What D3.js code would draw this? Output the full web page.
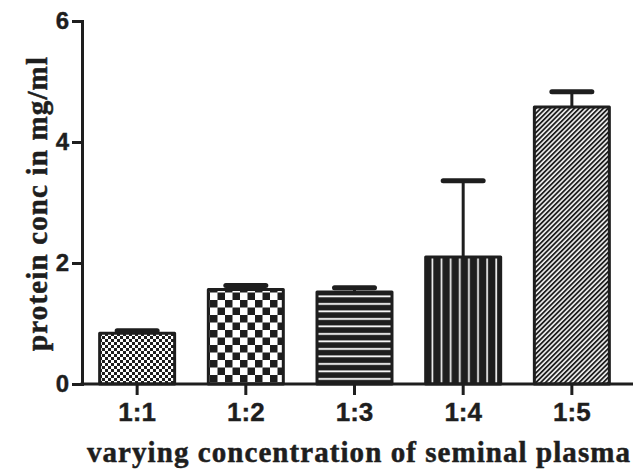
<!DOCTYPE html>
<html>
<head>
<meta charset="utf-8">
<script src="https://cdn.jsdelivr.net/npm/d3@7"></script>
<style>
  body { margin: 0; background: #fff; }
  svg { display: block; }
</style>
</head>
<body>
<div id="chart"></div>
<script>
// data
const categories = ["1:1", "1:2", "1:3", "1:4", "1:5"];
const means = [0.84, 1.56, 1.52, 2.10, 4.58];
const errors = [0.04, 0.07, 0.07, 1.26, 0.25];
const yTicks = [0, 2, 4, 6];
const patterns = ["fineCheck", "check", "hLines", "vLines", "diag"];

const W = 635, H = 469;
const ink = "#1e1e1e";
const svg = d3.select("#chart").append("svg")
    .attr("width", W).attr("height", H);

// fill patterns
const defs = svg.append("defs");
let p = defs.append("pattern").attr("id", "fineCheck")
    .attr("patternUnits", "userSpaceOnUse").attr("width", 6).attr("height", 6);
p.append("rect").attr("width", 6).attr("height", 6).attr("fill", "#fff");
p.append("rect").attr("width", 3).attr("height", 3).attr("fill", ink);
p.append("rect").attr("x", 3).attr("y", 3).attr("width", 3).attr("height", 3).attr("fill", ink);

p = defs.append("pattern").attr("id", "check")
    .attr("patternUnits", "userSpaceOnUse").attr("width", 15).attr("height", 15);
p.append("rect").attr("width", 15).attr("height", 15).attr("fill", "#fff");
p.append("rect").attr("width", 7.5).attr("height", 7.5).attr("fill", ink);
p.append("rect").attr("x", 7.5).attr("y", 7.5).attr("width", 7.5).attr("height", 7.5).attr("fill", ink);

p = defs.append("pattern").attr("id", "hLines")
    .attr("patternUnits", "userSpaceOnUse").attr("width", 10).attr("height", 7.5);
p.append("rect").attr("width", 10).attr("height", 7.5).attr("fill", ink);
p.append("rect").attr("y", 3).attr("width", 10).attr("height", 1.8).attr("fill", "#fff");

p = defs.append("pattern").attr("id", "vLines")
    .attr("patternUnits", "userSpaceOnUse").attr("width", 9.1).attr("height", 10);
p.append("rect").attr("width", 9.1).attr("height", 10).attr("fill", ink);
p.append("rect").attr("x", 4).attr("width", 1.6).attr("height", 10).attr("fill", "#fff");

p = defs.append("pattern").attr("id", "diag")
    .attr("patternUnits", "userSpaceOnUse").attr("width", 3.4).attr("height", 10)
    .attr("patternTransform", "rotate(45)");
p.append("rect").attr("width", 3.4).attr("height", 10).attr("fill", ink);
p.append("rect").attr("x", 1).attr("width", 1.5).attr("height", 10).attr("fill", "#fff");

// scales
const x = d3.scaleBand()
    .domain(categories)
    .range([79, 630])
    .paddingInner(0.31)
    .paddingOuter(0.19);

const y = d3.scaleLinear()
    .domain([0, 6])
    .range([384, 21]);

// bars
svg.selectAll(".bar")
    .data(categories)
    .enter()
    .append("rect")
    .attr("class", "bar")
    .attr("x", function(d) { return x(d); })
    .attr("y", function(d, i) { return y(means[i]); })
    .attr("width", x.bandwidth())
    .attr("height", function(d, i) { return y(0) - y(means[i]); })
    .attr("fill", function(d, i) { return "url(#" + patterns[i] + ")"; })
    .attr("stroke", ink)
    .attr("stroke-width", 3)
    .attr("stroke-linejoin", "round");

// error bars (upper only)
const capW = 40;
svg.selectAll(".err")
    .data(categories)
    .enter()
    .append("line")
    .attr("x1", function(d) { return x(d) + x.bandwidth() / 2; })
    .attr("x2", function(d) { return x(d) + x.bandwidth() / 2; })
    .attr("y1", function(d, i) { return y(means[i]); })
    .attr("y2", function(d, i) { return y(means[i] + errors[i]); })
    .attr("stroke", ink)
    .attr("stroke-width", 3);
svg.selectAll(".cap")
    .data(categories)
    .enter()
    .append("line")
    .attr("x1", function(d) { return x(d) + x.bandwidth() / 2 - capW / 2; })
    .attr("x2", function(d) { return x(d) + x.bandwidth() / 2 + capW / 2; })
    .attr("y1", function(d, i) { return y(means[i] + errors[i]); })
    .attr("y2", function(d, i) { return y(means[i] + errors[i]); })
    .attr("stroke", ink)
    .attr("stroke-width", 5)
    .attr("stroke-linecap", "round");

// axes
const yAxis = svg.append("g")
    .attr("transform", "translate(82,0)")
    .call(d3.axisLeft(y).tickValues(yTicks).tickFormat(d3.format("d")).tickSize(10).tickSizeOuter(0).tickPadding(3));
const xAxis = svg.append("g")
    .attr("transform", "translate(0,384)")
    .call(d3.axisBottom(x).tickSize(11).tickSizeOuter(0).tickPadding(8));

[xAxis, yAxis].forEach(function(a) {
    a.selectAll("path, line").attr("stroke", ink).attr("stroke-width", 3);
    a.selectAll("text")
        .attr("fill", ink)
        .attr("stroke", ink)
        .attr("stroke-width", 0.4)
        .style("font-family", "'Liberation Sans', Arial, sans-serif")
        .style("font-weight", "bold");
});
yAxis.selectAll("text").style("font-size", "24px");
xAxis.selectAll("text").style("font-size", "26px");
yAxis.select(".domain").attr("stroke-linecap", "square");
xAxis.select(".domain").attr("d", "M80.5,0H633");

// axis titles (serif bold, slightly spaced out)
function title(transform, label, target) {
    svg.append("text")
        .attr("transform", transform)
        .attr("textLength", target)
        .attr("lengthAdjust", "spacing")
        .attr("fill", ink)
        .attr("stroke", ink)
        .attr("stroke-width", 0.5)
        .style("font-family", "'Liberation Serif', 'Times New Roman', serif")
        .style("font-weight", "bold")
        .style("font-size", "29px")
        .text(label);
}
title("translate(87,462)", "varying concentration of seminal plasma", 543);
title("translate(47,351) rotate(-90)", "protein conc in mg/ml", 294);
</script>
</body>
</html>
